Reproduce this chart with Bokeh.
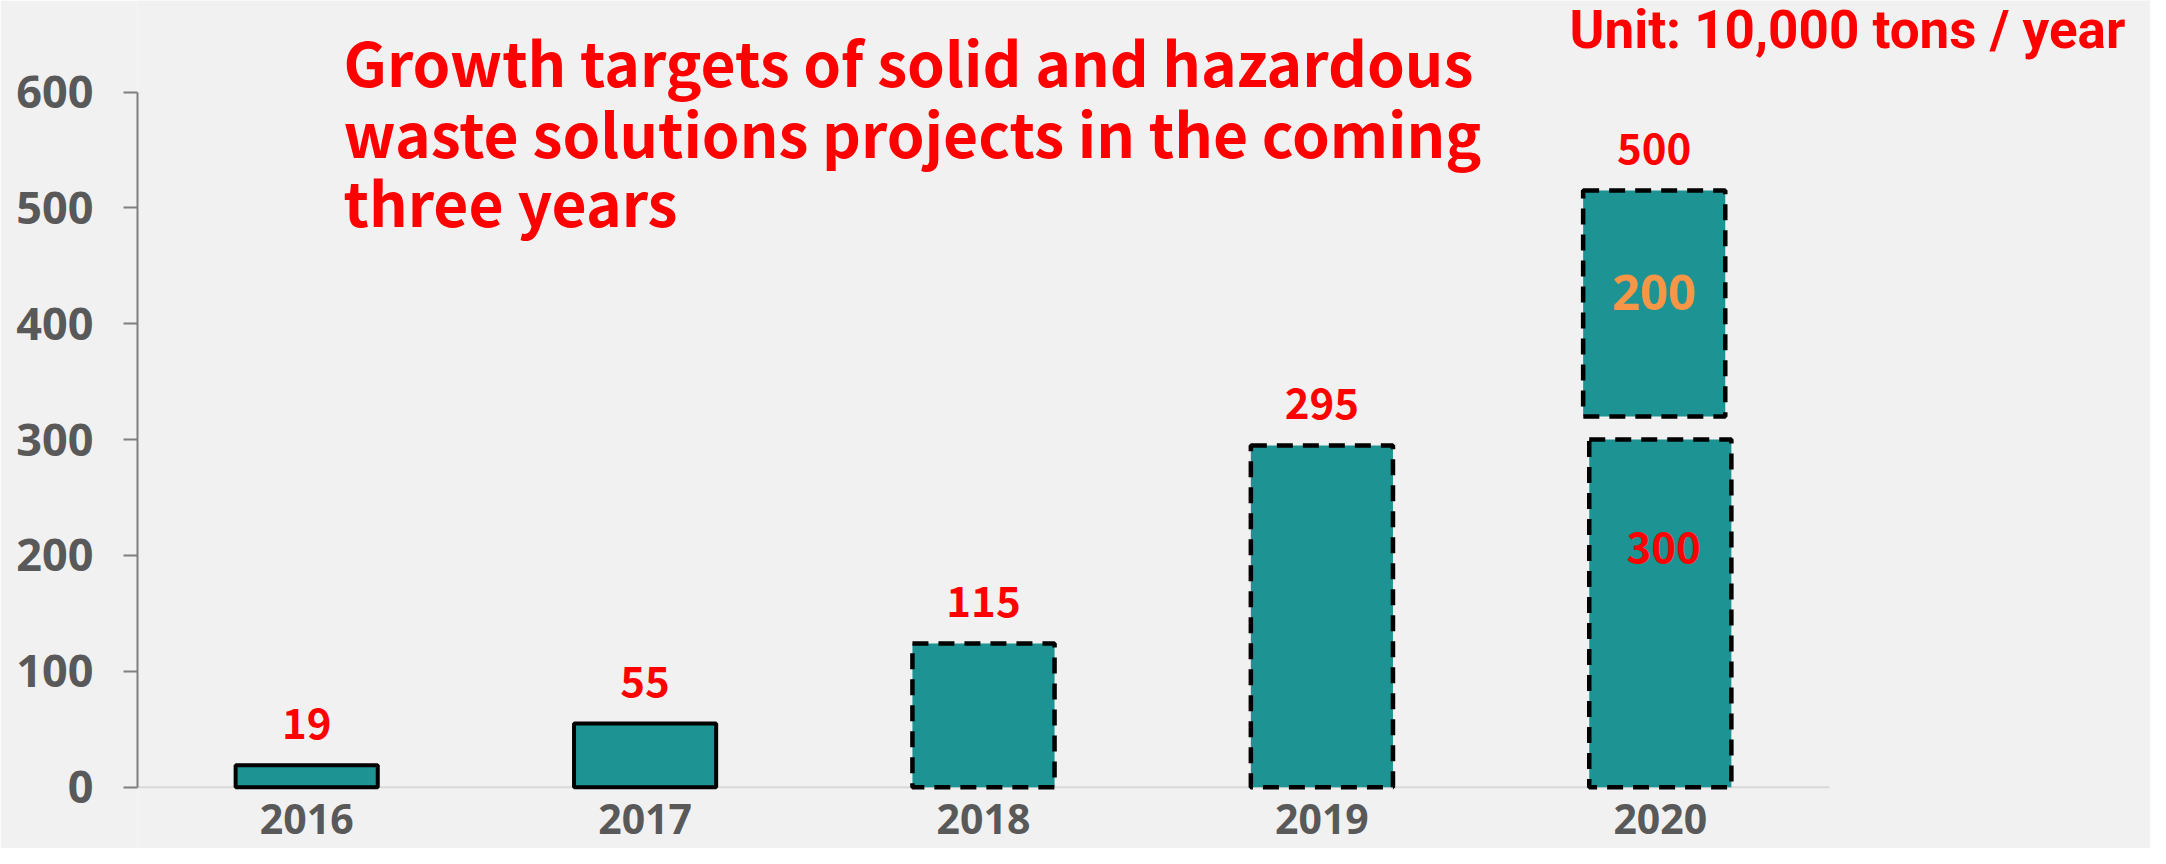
from bokeh.plotting import figure
from bokeh.models import Range1d, Label, ColumnDataSource, FixedTicker
from bokeh.core.properties import value
from bokeh.embed import file_html
from bokeh.resources import INLINE

# ---------------- data ----------------
years = ["2016", "2017", "2018", "2019", "2020"]
bar_values = [19, 55, 124, 295, 300]          # bar heights as drawn
value_labels = ["19", "55", "115", "295", "500"]
solid_years = ["2016", "2017"]
dashed_years = ["2018", "2019", "2020"]
extra_year = ["2020"]
extra_values = [195]                           # floating top segment of 2020
extra_labels = ["200"]
inner_labels = ["300"]
y_ticks = [0, 100, 200, 300, 400, 500, 600]
title_lines = ["Growth targets of solid and hazardous",
               "waste solutions projects in the coming",
               "three years"]
unit_text = "Unit: 10,000 tons / year"

# ---------------- layout constants ----------------
W, H = 2150, 848
AX_X = 137                  # x of y axis
FR_R = 1829                 # x of right end of category area
Y0 = 786.7                  # y of value 0
Y600 = 91.5                 # y of value 600
PX_PER_UNIT = (Y0 - Y600) / 600.0
CAT_W = (FR_R - AX_X) / len(years)
GAP = 20                    # gap between 2020 segments (data units)
SH = 0.38                   # baseline correction (em)
BAR_W = 0.42

def px2x(px):
    return (px - AX_X) / CAT_W

def px2y(py):
    return (Y0 - py) / PX_PER_UNIT

TEAL = "#1D9493"
RED = "#FF0000"
GRAY = "#595959"
BG = "#F1F1F1"
CJK = value("Noto Sans CJK SC")
OPEN = value("Open Sans")

p = figure(x_range=Range1d(0, px2x(W)),
           y_range=Range1d(px2y(H), px2y(0)),
           width=W, height=H, output_backend="svg", toolbar_location=None,
           x_axis_location=None,
           min_border_left=AX_X, min_border_right=0,
           min_border_top=0, min_border_bottom=0)
p.background_fill_color = BG
p.border_fill_color = BG
p.outline_line_color = None
p.grid.visible = False

ax = p.yaxis[0]
ax.bounds = (0, 600)
ax.ticker = FixedTicker(ticks=y_ticks)
ax.axis_line_color = "#7F7F7F"
ax.axis_line_width = 2
ax.major_tick_line_color = "#7F7F7F"
ax.major_tick_line_width = 2
ax.major_tick_out = 14
ax.major_tick_in = 0
ax.minor_tick_line_color = None
ax.major_label_standoff = 30
ax.major_label_text_font = "Open Sans"
ax.major_label_text_font_style = "bold"
ax.major_label_text_font_size = "45px"
ax.major_label_text_color = GRAY

xpos = {y: i + 0.5 for i, y in enumerate(years)}
vals = dict(zip(years, bar_values))

# baseline (category axis line)
p.segment(x0=[0], x1=[len(years)], y0=[0], y1=[0], line_color="#D9D9D9", line_width=2)

src_solid = ColumnDataSource(dict(x=[xpos[y] for y in solid_years], top=[vals[y] for y in solid_years]))
src_dash = ColumnDataSource(dict(x=[xpos[y] for y in dashed_years], top=[vals[y] for y in dashed_years]))
p.vbar(x="x", top="top", bottom=0, width=BAR_W, source=src_solid,
       fill_color=TEAL, line_color="black", line_width=4)
p.vbar(x="x", top="top", bottom=0, width=BAR_W, source=src_dash,
       fill_color=TEAL, line_color="black", line_width=4.5, line_dash="16 10")

base = [vals[y] + GAP for y in extra_year]
src_extra = ColumnDataSource(dict(x=[xpos[y] - 0.018 for y in extra_year], bottom=base,
                                  top=[b + v for b, v in zip(base, extra_values)],
                                  mid=[b + v / 2 for b, v in zip(base, extra_values)],
                                  label=extra_labels))
p.vbar(x="x", top="top", bottom="bottom", width=BAR_W,
       source=src_extra, fill_color=TEAL, line_color="black", line_width=4.5, line_dash="16 10")
p.text(x="x", y="mid", text="label", source=src_extra, y_offset=-SH * 49 + 8,
       text_align="center", text_baseline="alphabetic", text_color="#F79646",
       text_font=OPEN, text_font_style="bold", text_font_size="49px")

# value labels above bars
label_top = [vals[y] for y in years]
label_x = [xpos[y] for y in years]
for i, y in enumerate(years):
    if y in extra_year:
        k = extra_year.index(y)
        label_top[i] = src_extra.data["top"][k]
        label_x[i] = src_extra.data["x"][k]
src_lab = ColumnDataSource(dict(x=label_x, y=label_top, text=value_labels))
p.text(x="x", y="y", text="text", source=src_lab, y_offset=-26 - SH * 42,
       text_align="center", text_baseline="alphabetic", text_color=RED,
       text_font=CJK, text_font_style="bold", text_font_size="42px")

# inner label of 2020 lower bar
src_in = ColumnDataSource(dict(x=[xpos[y] + 0.01 for y in extra_year],
                               y=[vals[y] * 0.643 for y in extra_year], text=inner_labels))
p.text(x="x", y="y", text="text", source=src_in, y_offset=-SH * 42,
       text_align="center", text_baseline="alphabetic", text_color=RED,
       text_font=CJK, text_font_style="bold", text_font_size="42px")

# category labels
src_cat = ColumnDataSource(dict(x=[xpos[y] for y in years], y=[0] * len(years), text=years))
p.text(x="x", y="y", text="text", source=src_cat, y_offset=(834 - Y0) - SH * 41,
       text_align="center", text_baseline="alphabetic", text_color=GRAY,
       text_font=OPEN, text_font_style="bold", text_font_size="41px")

# title lines
for line, base_y in zip(title_lines, [83, 154, 223]):
    p.add_layout(Label(x=px2x(343), y=px2y(base_y - SH * 60.5), text=line, text_color=RED,
                       text_font="Noto Sans CJK SC", text_font_style="bold",
                       text_font_size="60.5px", text_baseline="alphabetic", text_align="left"))

# unit note (font with a smaller ascent so it stays inside the top edge)
p.add_layout(Label(x=px2x(1569), y=px2y(50 - SH * 53), text=unit_text, text_color=RED,
                   text_font="Roboto", text_font_style="bold",
                   text_font_size="53px", text_baseline="alphabetic", text_align="left"))

open("out.html", "w").write(file_html(p, INLINE))
